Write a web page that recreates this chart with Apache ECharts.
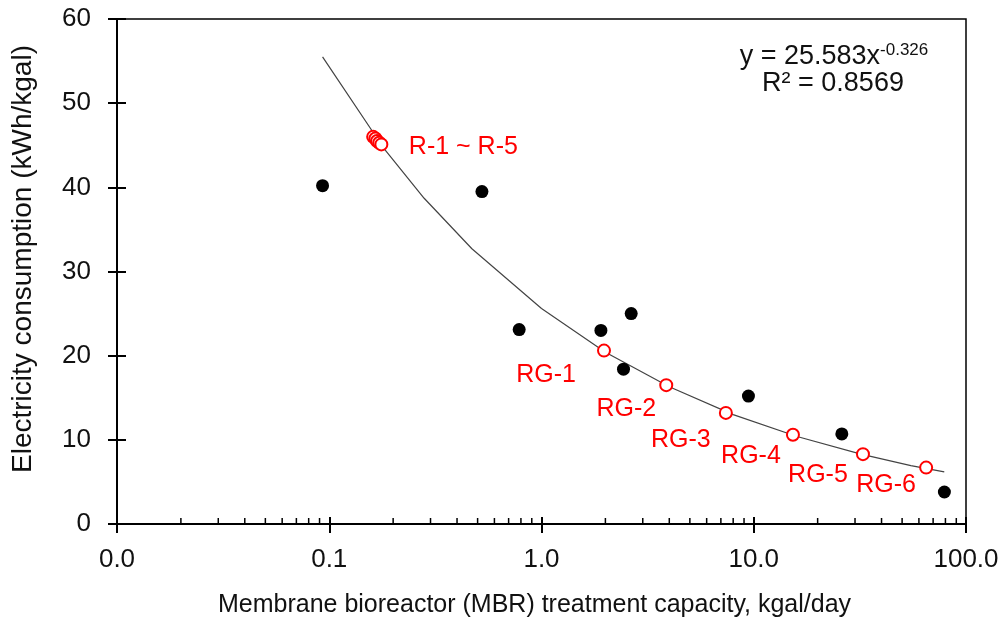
<!DOCTYPE html>
<html lang="en">
<head>
    <meta charset="UTF-8">
    <title>MBR electricity consumption</title>
    <style>
        html, body { margin: 0; padding: 0; background: #fff; }
        #main { width: 1004px; height: 636px; }
    </style>
</head>
<body>
<div id="main"></div>
<script src="https://cdn.jsdelivr.net/npm/echarts@6/dist/echarts.min.js"></script>
<script>
// black dots (other plants)
var blackX = [0.093, 0.524, 0.785, 1.905, 2.434, 2.646, 9.44, 26.0, 79.1];
var blackY = [40.2, 39.5, 23.1, 23.0, 18.4, 25.0, 15.2, 10.7, 3.8];
// red open circles R-1 ~ R-5
var rX = [0.161, 0.165, 0.168, 0.172, 0.176];
var rY = [46.0, 45.8, 45.5, 45.3, 45.1];
// red open circles RG-1 ~ RG-6
var rgX = [1.97, 3.87, 7.39, 15.3, 32.7, 64.9];
var rgY = [20.6, 16.5, 13.2, 10.6, 8.3, 6.7];
var rgNames = ['RG-1', 'RG-2', 'RG-3', 'RG-4', 'RG-5', 'RG-6'];
// power trendline
var trendX = [0.093, 0.18, 0.28, 0.47, 1.0, 2.0, 4.0, 8.0, 16.0, 32.0, 55.0, 79.0];
var trendY = [55.5, 44.7, 38.7, 32.7, 25.6, 20.4, 16.3, 13.0, 10.4, 8.3, 6.93, 6.2];
// minor ticks of the log axis
var minorTicks = [0.02, 0.03, 0.04, 0.05, 0.06, 0.07, 0.08, 0.09,
                  0.2, 0.3, 0.4, 0.5, 0.6, 0.7, 0.8, 0.9,
                  2, 3, 4, 5, 6, 7, 8, 9,
                  20, 30, 40, 50, 60, 70, 80, 90];
var eqLine1 = 'y = 25.583x';
var eqExp = '-0.326';
var eqLine2 = 'R\u00b2 = 0.8569';

var FONT = '"Liberation Sans", Arial, sans-serif';
var TXT = '#111';
var rgOffsets = [[-58, 24], [-40, 24], [-45, 27], [-42, 21], [-45, 21], [-40, 18]];

function zip(a, b) {
    var out = [];
    for (var i = 0; i < a.length; i++) out.push([a[i], b[i]]);
    return out;
}

var rData = zip(rX, rY).map(function (p, i) {
    var item = { value: p };
    if (i === rX.length - 1) {
        item.label = { show: true, formatter: 'R-1 ~ R-5', position: 'inside', offset: [82, 3] };
    }
    return item;
});
var rgData = zip(rgX, rgY).map(function (p, i) {
    return { value: p, label: { show: true, formatter: rgNames[i], position: 'inside', offset: rgOffsets[i] } };
});

var ele = document.getElementById('main');
var myChart = echarts.init(ele);

var option = {
    animation: false,
    grid: {
        left: 117, right: 38, top: 19, bottom: 112,
        show: true, borderColor: '#000', borderWidth: 1.5
    },
    xAxis: [{
        type: 'log', logBase: 10, min: 0.01, max: 100,
        name: 'Membrane bioreactor (MBR) treatment capacity, kgal/day',
        nameLocation: 'middle', nameGap: 69,
        nameTextStyle: { fontFamily: FONT, fontSize: 25, color: TXT, padding: [0, 14, 0, 0] },
        axisLine: { lineStyle: { color: '#000', width: 2 } },
        axisTick: { show: true, length: 9, lineStyle: { color: '#000', width: 2 } },
        axisLabel: {
            fontFamily: FONT, fontSize: 26, color: TXT, margin: 23,
            formatter: function (v) { return Number(v).toFixed(1); }
        },
        splitLine: { show: false }
    }, {
        // inside half of the major ticks
        type: 'log', logBase: 10, min: 0.01, max: 100, position: 'bottom',
        axisLine: { show: false },
        axisTick: { show: true, inside: true, length: 7, lineStyle: { color: '#000', width: 2 } },
        axisLabel: { show: false },
        splitLine: { show: false }
    }],
    yAxis: [{
        type: 'value', min: 0, max: 60, interval: 10,
        name: 'Electricity consumption (kWh/kgal)',
        nameLocation: 'middle', nameGap: 80,
        nameTextStyle: { fontFamily: FONT, fontSize: 28, color: TXT, padding: [0, 0, 0, 25] },
        axisLine: { show: true, lineStyle: { color: '#000', width: 2 } },
        axisTick: { show: true, length: 9, lineStyle: { color: '#000', width: 2 } },
        axisLabel: { fontFamily: FONT, fontSize: 26, color: TXT, margin: 26 },
        splitLine: { show: false }
    }, {
        type: 'value', min: 0, max: 60, interval: 10, position: 'left',
        axisLine: { show: false },
        axisTick: { show: true, inside: true, length: 9, lineStyle: { color: '#000', width: 2 } },
        axisLabel: { show: false },
        splitLine: { show: false }
    }],
    graphic: [{
        type: 'text', x: 834, y: 42,
        style: {
            text: '{a|' + eqLine1 + '}{b|' + eqExp + '}',
            align: 'center',
            rich: {
                a: { fontFamily: FONT, fontSize: 27, lineHeight: 30, fill: TXT, color: TXT },
                b: { fontFamily: FONT, fontSize: 17, lineHeight: 30, fill: TXT, color: TXT, verticalAlign: 'top', padding: [0, 0, 12, 0] }
            }
        }
    }, {
        type: 'text', x: 833, y: 70,
        style: { text: eqLine2, font: '27px ' + FONT, fill: TXT, align: 'center' }
    }],
    series: [{
        name: 'minor ticks',
        type: 'custom',
        silent: true,
        clip: false,
        data: minorTicks.map(function (v) { return [v, 0]; }),
        renderItem: function (params, api) {
            var p = api.coord([api.value(0), api.value(1)]);
            return {
                type: 'line',
                shape: { x1: p[0], y1: p[1], x2: p[0], y2: p[1] - 6 },
                style: { stroke: '#000', lineWidth: 1.5 }
            };
        }
    }, {
        name: 'trend',
        type: 'line',
        data: zip(trendX, trendY),
        showSymbol: false,
        smooth: false,
        lineStyle: { color: '#444', width: 1.2 },
        z: 3
    }, {
        name: 'others',
        type: 'scatter',
        data: zip(blackX, blackY),
        symbol: 'circle',
        symbolSize: 13,
        itemStyle: { color: '#000', opacity: 1 },
        z: 4
    }, {
        name: 'R',
        type: 'scatter',
        data: rData,
        symbol: 'emptyCircle',
        symbolSize: 12,
        itemStyle: { color: '#ff0000', borderColor: '#ff0000', borderWidth: 2, opacity: 1 },
        label: { fontFamily: FONT, fontSize: 25, color: '#ff0000' },
        z: 5
    }, {
        name: 'RG',
        type: 'scatter',
        data: rgData,
        symbol: 'emptyCircle',
        symbolSize: 12,
        itemStyle: { color: '#ff0000', borderColor: '#ff0000', borderWidth: 2, opacity: 1 },
        label: { fontFamily: FONT, fontSize: 25, color: '#ff0000' },
        z: 5
    }]
};
myChart.setOption(option);
</script>
</body>
</html>
